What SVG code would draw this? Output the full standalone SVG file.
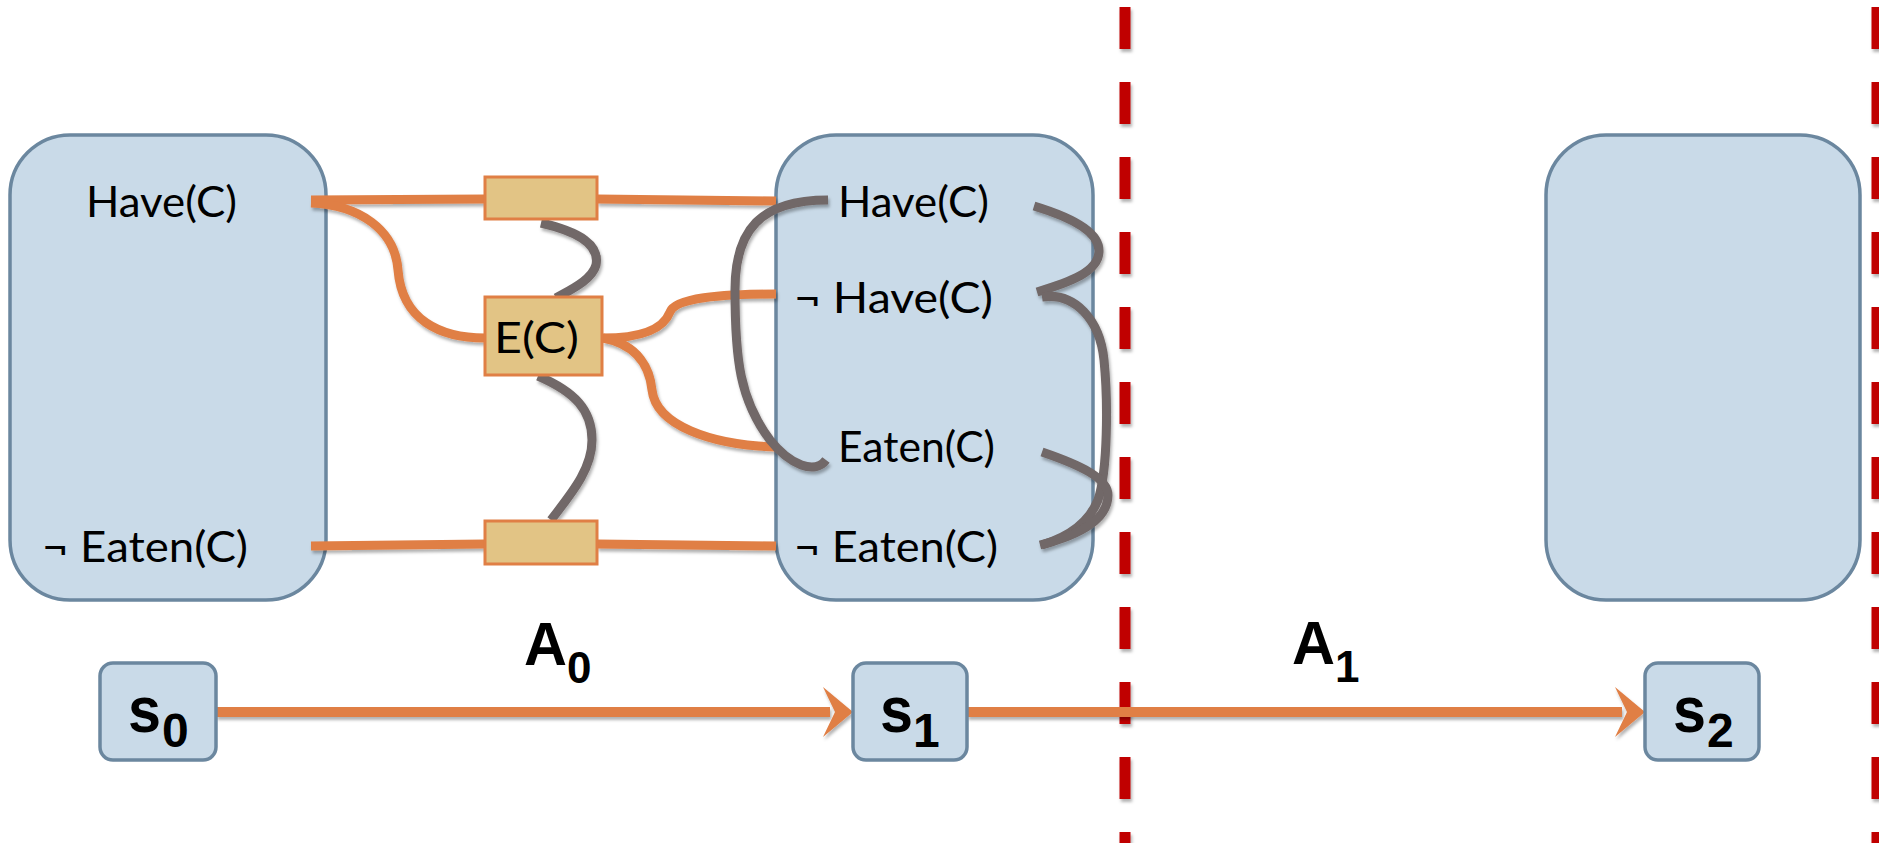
<svg xmlns="http://www.w3.org/2000/svg" width="1879" height="843" viewBox="0 0 1879 843">
<style>
.state{fill:#C9DAE8;stroke:#6B879F;stroke-width:3.5}
.act{fill:#E2C485;stroke:#E07F45;stroke-width:3}
.lbl{font-family:Lato,"Noto Sans",sans-serif;font-size:42px;fill:#000}
.big{font-family:"Liberation Sans",Arial,sans-serif;font-weight:bold;fill:#000}
.or{fill:none;stroke:#E07F45;stroke-width:9}
.gr{fill:none;stroke:#716767;stroke-width:9}
.dash{fill:none;stroke:#C00000;stroke-width:11;stroke-dasharray:42 33}
.arr{fill:none;stroke:#E07F45;stroke-width:10}
</style>
<defs>
<filter id="sh" x="-10%" y="-10%" width="120%" height="130%">
<feDropShadow dx="1.5" dy="3" stdDeviation="1.8" flood-color="#000" flood-opacity="0.3"/>
</filter>
</defs>
<rect width="1879" height="843" fill="#fff"/>

<g id="state0">
<rect class="state" x="10" y="135" width="316" height="465" rx="60"/>
<text class="lbl" x="86" y="217" textLength="151" lengthAdjust="spacingAndGlyphs">Have(C)</text>
<text class="lbl" x="42" y="562" textLength="206" lengthAdjust="spacingAndGlyphs">¬ Eaten(C)</text>
</g>
<g id="state1">
<rect class="state" x="776" y="135" width="317" height="465" rx="60"/>
<text class="lbl" x="838" y="217" textLength="151" lengthAdjust="spacingAndGlyphs">Have(C)</text>
<text class="lbl" x="794" y="313" textLength="199" lengthAdjust="spacingAndGlyphs">¬ Have(C)</text>
<text class="lbl" x="838" y="462" textLength="157" lengthAdjust="spacingAndGlyphs">Eaten(C)</text>
<text class="lbl" x="794" y="562" textLength="204" lengthAdjust="spacingAndGlyphs">¬ Eaten(C)</text>
</g>
<g id="state2">
<rect class="state" x="1546" y="135" width="314" height="465" rx="60"/>
</g>

<g id="dividers" filter="url(#sh)">
<line class="dash" x1="1125" y1="7" x2="1125" y2="843"/>
<line class="dash" x1="1877" y1="7" x2="1877" y2="843"/>
</g>

<g id="connectors">
<g filter="url(#sh)">
<path class="or" d="M311,200 L485,199"/>
<path class="or" d="M597,199 L776,201"/>
<path class="or" d="M311,546 L485,544"/>
<path class="or" d="M597,544 L776,546"/>
<path class="or" d="M311,203 C360,205 395,230 398,270 C402,320 440,338 485,338"/>
<path class="or" d="M603,338 C650,338 665,325 670,312 C675,298 720,294 776,294"/>
<path class="or" d="M603,338 C640,345 650,370 652,390 C656,425 710,445 776,447"/>
<path class="gr" d="M541,223 C580,232 600,245 596,265 C592,280 570,290 556,298"/>
<path class="gr" d="M538,376 C575,392 592,410 592,440 C592,470 570,495 551,520"/>
<path class="gr" d="M828,200 C760,200 735,230 735,290 C735,360 740,400 770,440 C790,465 815,475 826,460"/>
<path class="gr" d="M1034,206 C1080,220 1100,235 1099,252 C1098,272 1070,282 1037,292"/>
<path class="gr" d="M1042,297 C1075,292 1100,320 1104,360 C1108,400 1108,470 1098,500 C1088,525 1065,538 1042,545"/>
<path class="gr" d="M1042,452 C1080,465 1108,478 1108,495 C1108,520 1080,535 1040,545"/>
</g>
<g filter="url(#sh)">
<path class="arr" d="M216,712 L830,712"/>
<polygon points="823,687 853,712 823,737 835,712" fill="#E07F45"/>
<path class="arr" d="M967,712 L1622,712"/>
<polygon points="1615,687 1645,712 1615,737 1627,712" fill="#E07F45"/>
</g>
</g>

<g id="act-noop-have">
<rect class="act" x="485" y="177" width="112" height="42"/>
</g>
<g id="act-eat">
<rect class="act" x="485" y="297" width="117" height="78"/>
<text class="lbl" x="494" y="353" textLength="85" lengthAdjust="spacingAndGlyphs">E(C)</text>
</g>
<g id="act-noop-eaten">
<rect class="act" x="485" y="521" width="112" height="43"/>
</g>

<g id="s0">
<rect class="state" x="100" y="663" width="116" height="97" rx="13" stroke-width="4"/>
<text class="big" x="128" y="732" font-size="64" textLength="33" lengthAdjust="spacingAndGlyphs">s</text>
<text class="big" x="162" y="747" font-size="48">0</text>
</g>
<g id="s1">
<rect class="state" x="853" y="663" width="114" height="97" rx="13" stroke-width="4"/>
<text class="big" x="880" y="732" font-size="64" textLength="33" lengthAdjust="spacingAndGlyphs">s</text>
<text class="big" x="913" y="747" font-size="48">1</text>
</g>
<g id="s2">
<rect class="state" x="1645" y="663" width="114" height="97" rx="13" stroke-width="4"/>
<text class="big" x="1673" y="732" font-size="64" textLength="33" lengthAdjust="spacingAndGlyphs">s</text>
<text class="big" x="1707" y="747" font-size="48">2</text>
</g>

<g id="labels">
<text class="big" x="524" y="665" font-size="62" textLength="43" lengthAdjust="spacingAndGlyphs">A</text>
<text class="big" x="567" y="683" font-size="44">0</text>
<text class="big" x="1292" y="664" font-size="62" textLength="43" lengthAdjust="spacingAndGlyphs">A</text>
<text class="big" x="1335" y="682" font-size="44">1</text>
</g>
</svg>
